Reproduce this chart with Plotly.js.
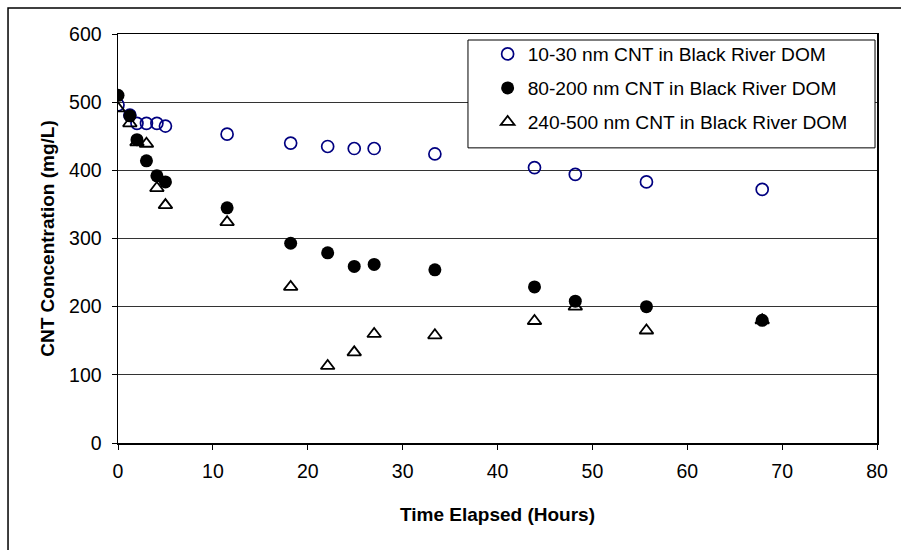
<!DOCTYPE html>
<html>
<head>
<meta charset="utf-8">
<script src="https://cdn.plot.ly/plotly-3.0.1.min.js"></script>
<style>
html,body{margin:0;padding:0;background:#fff;}
#chart{width:901px;height:550px;}
</style>
</head>
<body>
<div id="chart"></div>
<script>
// Time (hours)
var timeHours = [0, 1.25, 2, 3, 4.1, 5, 11.5, 18.2, 22.1, 24.9, 27, 33.4, 43.9, 48.2, 55.7, 67.9];
// CNT concentration (mg/L)
var small1030 = [496, 481, 469, 469, 469, 465, 453, 440, 435, 432, 432, 424, 404, 394, 383, 372];
var medium80200 = [510, 480, 445, 414, 392, 383, 345, 293, 279, 259, 262, 254, 229, 208, 200, 180];
var large240500 = [491, 469, 441, 439, 374, 349, 324, 229, 113, 133, 160, 158, 179, 200, 165, 180];
var seriesNames = [
  "10-30 nm CNT in Black River DOM",
  "80-200 nm CNT in Black River DOM",
  "240-500 nm CNT in Black River DOM"
];
var xTicks = [0, 10, 20, 30, 40, 50, 60, 70, 80];
var yTicks = [0, 100, 200, 300, 400, 500, 600];

var fontFam = "Liberation Sans, Arial, sans-serif";

var traces = [
  {
    x: timeHours, y: small1030, name: seriesNames[0], type: "scatter", mode: "markers",
    legendgroup: "a",
    marker: {symbol: "circle-open", size: 12, color: "#000080", line: {width: 1.7, color: "#000080"}}
  },
  {
    x: timeHours, y: medium80200, name: seriesNames[1], type: "scatter", mode: "markers",
    legendgroup: "b",
    marker: {symbol: "circle", size: 13, color: "#000000"}
  },
  {
    x: timeHours, y: large240500, name: seriesNames[2], type: "scatter", mode: "markers",
    legendgroup: "c",
    marker: {symbol: "triangle-up-open", size: 12, color: "#000000", line: {width: 1.8, color: "#000000"}}
  }
];

var layout = {
  width: 901, height: 550,
  margin: {l: 118, r: 24, t: 34, b: 106.5},
  paper_bgcolor: "#ffffff", plot_bgcolor: "#ffffff",
  font: {family: fontFam, size: 19, color: "#000000"},
  showlegend: true,
  legend: {
    x: 0.4870, y: 0.9976, xanchor: "left", yanchor: "top",
    bgcolor: "rgba(0,0,0,0)", borderwidth: 0,
    font: {family: fontFam, size: 19.2, color: "#000000"},
    traceorder: "grouped", tracegroupgap: 6, itemwidth: 30
  },
  xaxis: {
    range: [0, 80], tickvals: xTicks, ticktext: xTicks.map(String),
    showgrid: false, zeroline: false,
    showline: true, linecolor: "#000000", linewidth: 1.5, mirror: true,
    ticks: "outside", ticklen: 5, tickcolor: "#000000", tickwidth: 1,
    ticklabelstandoff: 5,
    tickfont: {family: fontFam, size: 19.5, color: "#000000"},
    title: {text: "<b>Time Elapsed (Hours)</b>", font: {family: fontFam, size: 19, color: "#000000"}, standoff: 27},
    fixedrange: true
  },
  yaxis: {
    range: [0, 600], tickvals: yTicks, ticktext: yTicks.map(String),
    showgrid: true, gridcolor: "#333333", gridwidth: 1, zeroline: false,
    showline: true, linecolor: "#000000", linewidth: 1.5, mirror: true,
    ticks: "outside", ticklen: 5, tickcolor: "#000000", tickwidth: 1,
    ticklabelstandoff: 6,
    tickfont: {family: fontFam, size: 19.5, color: "#000000"},
    title: {text: "<b>CNT Concentration (mg/L)</b>", font: {family: fontFam, size: 19, color: "#000000"}, standoff: 9},
    fixedrange: true
  },
  shapes: [
    {
      type: "path", xref: "paper", yref: "paper",
      path: "M -0.1449 -0.30 L -0.1449 1.0635 L 1.05 1.0635",
      line: {color: "#000000", width: 1.5}, layer: "above"
    },
    {
      type: "rect", xref: "paper", yref: "paper",
      x0: 0.4611, x1: 0.9974, y0: 0.7216, y1: 0.9853,
      fillcolor: "#ffffff", line: {color: "#000000", width: 1}, layer: "above"
    }
  ]
};

Plotly.newPlot("chart", traces, layout, {displayModeBar: false, staticPlot: true});
</script>
</body>
</html>
